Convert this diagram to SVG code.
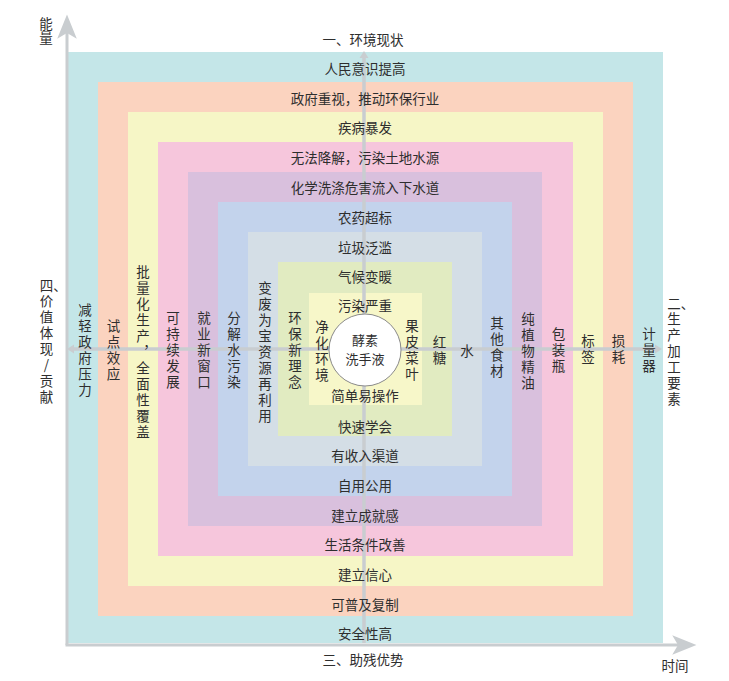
<svg xmlns="http://www.w3.org/2000/svg" width="729" height="681" viewBox="0 0 729 681">
<defs>
<style>
text{font-family:"Noto Sans CJK SC","Noto Sans CJK JP",sans-serif;font-size:13.5px;fill:#2e2e2e;text-anchor:middle;dominant-baseline:central}
text.v{writing-mode:vertical-rl;text-orientation:upright;letter-spacing:2.5px;dominant-baseline:auto}
text.c{font-size:13px}
.ax{stroke:#c9cdd0;stroke-width:3;fill:none}
.cx{stroke:#c9cdd0;stroke-width:3.5;fill:none}
.b1{fill:#c4e6e8}.b2{fill:#fbd3bf}.b3{fill:#f6f6c6}.b4{fill:#f6c6dc}.b5{fill:#d9c0dd}.b6{fill:#c3d3ec}.b7{fill:#d4dee6}.b8{fill:#e1ebc1}.b9{fill:#f7f7c9}
.core{fill:#ffffff;stroke:#8a8a8a;stroke-width:1}
.hz{font-feature-settings:"vert" 0}
</style>
<marker id="bigArrow" markerUnits="userSpaceOnUse" markerWidth="30" markerHeight="30" viewBox="-2 -10 26 20" refX="5" refY="0" orient="auto" overflow="visible">
<path d="M0,-8.5 L21,0 L0,8.5 L5,0 Z" fill="#c9cdd0"/>
</marker>
<marker id="smallArrow" markerUnits="userSpaceOnUse" markerWidth="12" markerHeight="12" viewBox="-1 -6 10 12" refX="1" refY="0" orient="auto-start-reverse" overflow="visible">
<path d="M0,-4.5 L7,0 L0,4.5 Z" fill="#c9cdd0"/>
</marker>
</defs>
<rect width="729" height="681" fill="#ffffff"/>

<g id="band1"><rect class="b1" x="68" y="52" width="595" height="591"/></g>
<g id="band2"><rect class="b2" x="98" y="82" width="535" height="534"/></g>
<g id="band3"><rect class="b3" x="128" y="112" width="475" height="474"/></g>
<g id="band4"><rect class="b4" x="158" y="142" width="415" height="414"/></g>
<g id="band5"><rect class="b5" x="188" y="172" width="354" height="354"/></g>
<g id="band6"><rect class="b6" x="218" y="202" width="294" height="294"/></g>
<g id="band7"><rect class="b7" x="248" y="232" width="234" height="234"/></g>
<g id="band8"><rect class="b8" x="278" y="262" width="174" height="174"/></g>
<g id="band9"><rect class="b9" x="309" y="293" width="113" height="112"/></g>

<g id="connectors">
<path class="ax" d="M67,645 L67,33" marker-end="url(#bigArrow)"/>
<path class="ax" d="M65.5,645 L678,645" marker-end="url(#bigArrow)"/>
<path class="cx" d="M73,349 L656,349" marker-start="url(#smallArrow)" marker-end="url(#smallArrow)"/>
<path class="cx" d="M364,643 L364,57" marker-end="url(#smallArrow)"/>
</g>

<g id="core">
<circle class="core" cx="365" cy="350" r="36"/>
<text class="c" x="365" y="339.5">酵素</text>
<text class="c" x="365" y="358.5">洗手液</text>
</g>

<g id="axis-labels">
<text class="v" x="46" y="31" style="letter-spacing:0.5px">能量</text>
<text x="675" y="665">时间</text>
<text x="363" y="39">一、环境现状</text>
<text x="363" y="659">三、助残优势</text>
<text x="53.25" y="285">四、</text>
<text class="v" x="46.5" y="350.5">价值体现/贡献</text>
<text x="680.75" y="303">二、</text>
<text class="v" x="674" y="360.5">生产加工要素</text>
</g>

<g id="band1-labels">
<text x="365" y="67.5">人民意识提高</text>
<text x="365" y="633">安全性高</text>
<text class="v" x="85" y="351">减轻政府压力</text>
<text class="v" x="649" y="351">计量器</text>
</g>
<g id="band2-labels">
<text x="365" y="97.5">政府重视，推动环保行业</text>
<text x="365" y="603.5">可普及复制</text>
<text class="v" x="113.5" y="351">试点效应</text>
<text class="v" x="618.5" y="350.5">损耗</text>
</g>
<g id="band3-labels">
<text x="365" y="127">疾病暴发</text>
<text x="365" y="574">建立信心</text>
<text class="v" x="143" y="353">批量化生产<tspan class="hz">，</tspan>全面性覆盖</text>
<text class="v" x="588" y="350.5">标签</text>
</g>
<g id="band4-labels">
<text x="365" y="157">无法降解，污染土地水源</text>
<text x="365" y="544">生活条件改善</text>
<text class="v" x="173" y="351">可持续发展</text>
<text class="v" x="558.5" y="351">包装瓶</text>
</g>
<g id="band5-labels">
<text x="365" y="187">化学洗涤危害流入下水道</text>
<text x="365" y="514.5">建立成就感</text>
<text class="v" x="204" y="351">就业新窗口</text>
<text class="v" x="528" y="352">纯植物精油</text>
</g>
<g id="band6-labels">
<text x="365" y="217">农药超标</text>
<text x="365" y="484.5">自用公用</text>
<text class="v" x="234" y="351">分解水污染</text>
<text class="v" x="497" y="348.5">其他食材</text>
</g>
<g id="band7-labels">
<text x="365" y="247">垃圾泛滥</text>
<text x="365" y="455">有收入渠道</text>
<text class="v" x="265" y="353">变废为宝资源再利用</text>
<text x="467" y="350">水</text>
</g>
<g id="band8-labels">
<text x="365" y="276">气候变暖</text>
<text x="365" y="425.5">快速学会</text>
<text class="v" x="295" y="351.5">环保新理念</text>
<text class="v" x="439.5" y="351">红糖</text>
</g>
<g id="band9-labels">
<text x="365" y="305">污染严重</text>
<text x="365" y="395">简单易操作</text>
<text class="v" x="322" y="352.5">净化环境</text>
<text class="v" x="412" y="351">果皮菜叶</text>
</g>
</svg>
